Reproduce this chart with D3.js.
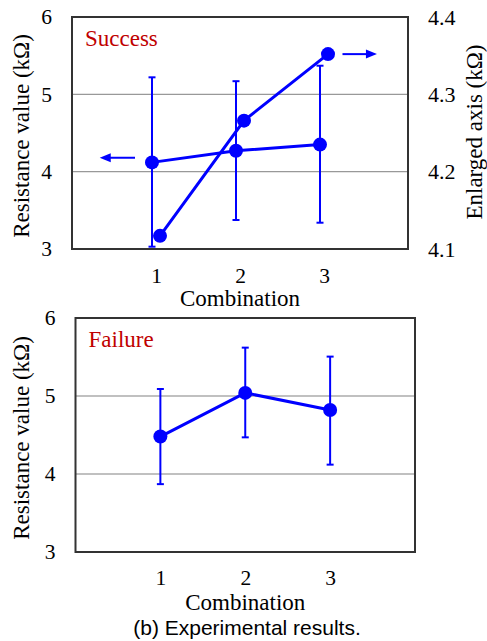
<!DOCTYPE html>
<html>
<head>
<meta charset="utf-8">
<script src="https://cdn.jsdelivr.net/npm/d3@7"></script>
<style>
  html, body { margin: 0; padding: 0; background: #fff; }
  svg { display: block; }
</style>
</head>
<body>
<svg id="chart" width="487" height="641"></svg>
<script>
// ---- data ----
const categories = [1, 2, 3];
const leftTicks = [3, 4, 5, 6];
const rightTicks = [4.1, 4.2, 4.3, 4.4];

const successMean = [4.12, 4.27, 4.35];
const successHigh = [5.22, 5.17, 5.37];
const successLow = [3.03, 3.375, 3.34];
const successEnlarged = [4.117, 4.266, 4.352];

const failureMean = [4.48, 5.04, 4.82];
const failureHigh = [5.09, 5.62, 5.505];
const failureLow = [3.87, 4.47, 4.12];

// ---- drawing ----
const svg = d3.select("#chart");
const serif = "'Liberation Serif', 'Times New Roman', serif";
const blue = "#0000ff";
const red = "#c00000";

function panel(opts) {
  const g = svg.append("g");
  const x = d3.scaleLinear().domain([0, 4]).range([opts.left, opts.right]);
  const y = d3.scaleLinear().domain([3, 6]).range([opts.bottom, opts.top]);

  g.append("g").selectAll("line").data([4, 5]).join("line")
    .attr("x1", opts.left).attr("x2", opts.right)
    .attr("y1", d => y(d)).attr("y2", d => y(d))
    .attr("stroke", opts.gridColor).attr("stroke-width", opts.gridWidth);

  const la = g.append("g").attr("transform", `translate(${opts.left - 20},0)`)
    .call(d3.axisLeft(y).tickValues(leftTicks).tickSize(0).tickPadding(0).tickFormat(d3.format("d")));
  la.select(".domain").remove();
  la.selectAll("text").attr("font-family", serif).attr("font-size", 21.5).attr("fill", "#000");

  const ba = g.append("g").attr("transform", `translate(0,${opts.bottom})`)
    .call(d3.axisBottom(x).tickValues(categories).tickSize(0).tickPadding(0).tickFormat(d3.format("d")));
  ba.select(".domain").remove();
  ba.selectAll("text").attr("font-family", serif).attr("font-size", 21.5).attr("fill", "#000")
    .attr("y", opts.tickDy).attr("dy", null);

  g.append("text")
    .attr("transform", `translate(${opts.ytitleX},${(opts.top + opts.bottom) / 2 + 3}) rotate(-90)`)
    .attr("text-anchor", "middle").attr("font-family", serif).attr("font-size", 23)
    .text("Resistance value (kΩ)");
  g.append("text")
    .attr("x", (opts.left + opts.right) / 2).attr("y", opts.bottom + opts.xtitleDy)
    .attr("text-anchor", "middle").attr("font-family", serif).attr("font-size", 23)
    .text("Combination");

  g.append("text")
    .attr("x", opts.left + 13).attr("y", opts.top + 29)
    .attr("font-family", serif).attr("font-size", 23).attr("fill", red)
    .text(opts.label);

  return { g, x, y };
}

function series(p, mean, high, low, yScale, dx, withErr) {
  const g = p.g.append("g");
  const pts = categories.map((c, i) => ({ c, m: mean[i], h: high ? high[i] : null, l: low ? low[i] : null }));
  if (withErr) {
    const eb = g.append("g").attr("stroke", blue).attr("stroke-width", 2);
    eb.selectAll(".v").data(pts).join("line").attr("class", "v")
      .attr("x1", d => p.x(d.c) + dx).attr("x2", d => p.x(d.c) + dx)
      .attr("y1", d => yScale(d.h)).attr("y2", d => yScale(d.l));
    eb.selectAll(".t").data(pts).join("line").attr("class", "t")
      .attr("x1", d => p.x(d.c) + dx - 3.5).attr("x2", d => p.x(d.c) + dx + 3.5)
      .attr("y1", d => yScale(d.h)).attr("y2", d => yScale(d.h));
    eb.selectAll(".b").data(pts).join("line").attr("class", "b")
      .attr("x1", d => p.x(d.c) + dx - 3.5).attr("x2", d => p.x(d.c) + dx + 3.5)
      .attr("y1", d => yScale(d.l)).attr("y2", d => yScale(d.l));
  }
  g.append("path").datum(pts)
    .attr("fill", "none").attr("stroke", blue).attr("stroke-width", 3)
    .attr("d", d3.line().x(d => p.x(d.c) + dx).y(d => yScale(d.m)));
  g.selectAll("circle").data(pts).join("circle")
    .attr("cx", d => p.x(d.c) + dx).attr("cy", d => yScale(d.m))
    .attr("r", 7).attr("fill", blue);
}

function arrow(g, x1, x2, y) {
  const dir = Math.sign(x2 - x1);
  g.append("line").attr("x1", x1).attr("x2", x2 - dir * 8).attr("y1", y).attr("y2", y)
    .attr("stroke", blue).attr("stroke-width", 2);
  g.append("path")
    .attr("d", `M${x2},${y} L${x2 - dir * 11},${y - 4.5} L${x2 - dir * 11},${y + 4.5} Z`)
    .attr("fill", blue);
}

// ---- top panel: Success ----
const topP = panel({ left: 72, right: 408, top: 17, bottom: 249, gridColor: "#999", gridWidth: 1.2,
  ytitleX: 29, xtitleDy: 57, tickDy: 33.5, label: "Success" });
const yRight = d3.scaleLinear().domain([4.1, 4.4]).range([249, 17]);
const ra = topP.g.append("g").attr("transform", `translate(${408 + 20},0)`)
  .call(d3.axisRight(yRight).tickValues(rightTicks).tickSize(0).tickPadding(0).tickFormat(d3.format(".1f")));
ra.select(".domain").remove();
ra.selectAll("text").attr("font-family", serif).attr("font-size", 22).attr("fill", "#000");
topP.g.append("text")
  .attr("transform", `translate(481.5,132) rotate(-90)`)
  .attr("text-anchor", "middle").attr("font-family", serif).attr("font-size", 23)
  .text("Enlarged axis (kΩ)");

series(topP, successMean, successHigh, successLow, topP.y, -4, true);
series(topP, successEnlarged, null, null, yRight, 4, false);
topP.g.append("rect").attr("x", 72).attr("y", 17).attr("width", 336).attr("height", 232)
  .attr("fill", "none").attr("stroke", "#333").attr("stroke-width", 2);
arrow(topP.g, topP.x(0.75), topP.x(0.33), topP.y(4.18));
arrow(topP.g, topP.x(3.22), topP.x(3.63), yRight(4.352));

// ---- bottom panel: Failure ----
const botP = panel({ left: 75.5, right: 415, top: 318, bottom: 552, gridColor: "#c0c0c0", gridWidth: 2,
  ytitleX: 28.5, xtitleDy: 57.5, tickDy: 32.5, label: "Failure" });
series(botP, failureMean, failureHigh, failureLow, botP.y, 0, true);
botP.g.append("rect").attr("x", 75.5).attr("y", 318).attr("width", 339.5).attr("height", 234)
  .attr("fill", "none").attr("stroke", "#333").attr("stroke-width", 2);

svg.append("text").attr("x", 247).attr("y", 635).attr("text-anchor", "middle")
  .attr("font-family", "'Liberation Sans', Arial, sans-serif").attr("font-size", 21)
  .text("(b) Experimental results.");
</script>
</body>
</html>
